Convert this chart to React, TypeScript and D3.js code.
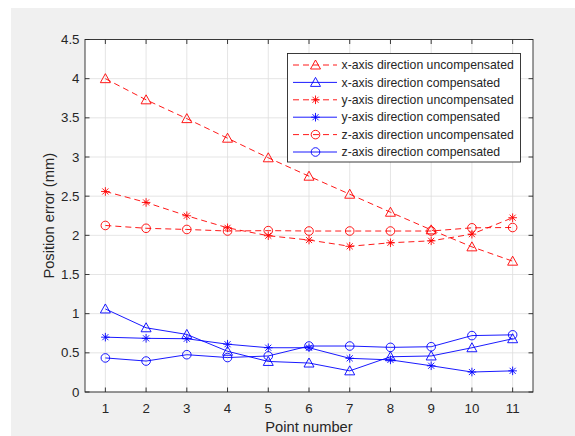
import React from "react";
import * as d3 from "d3";

const points = [1, 2, 3, 4, 5, 6, 7, 8, 9, 10, 11];
const xUncomp = [4.0, 3.73, 3.49, 3.24, 2.99, 2.755, 2.525, 2.295, 2.07, 1.853, 1.67];
const xComp = [1.06, 0.82, 0.735, 0.52, 0.39, 0.37, 0.27, 0.45, 0.46, 0.565, 0.68];
const yUncomp = [2.56, 2.42, 2.25, 2.096, 1.995, 1.94, 1.86, 1.905, 1.93, 2.015, 2.225];
const yComp = [0.7, 0.685, 0.68, 0.61, 0.565, 0.565, 0.43, 0.41, 0.335, 0.255, 0.27];
const zUncomp = [2.126, 2.09, 2.075, 2.055, 2.06, 2.055, 2.055, 2.055, 2.055, 2.096, 2.1];
const zComp = [0.435, 0.395, 0.476, 0.44, 0.46, 0.587, 0.587, 0.57, 0.578, 0.72, 0.73];
const yTicks = [0, 0.5, 1, 1.5, 2, 2.5, 3, 3.5, 4, 4.5];
const seriesNames = [
  "x-axis direction uncompensated",
  "x-axis direction compensated",
  "y-axis direction uncompensated",
  "y-axis direction compensated",
  "z-axis direction uncompensated",
  "z-axis direction compensated",
];

const RED = "#ff0000";
const BLUE = "#0000ff";
const AX = "#262626";

type Marker = "tri" | "star" | "circle";
const series: { name: string; values: number[]; color: string; dashed: boolean; marker: Marker }[] = [
  { name: seriesNames[0], values: xUncomp, color: RED, dashed: true, marker: "tri" },
  { name: seriesNames[1], values: xComp, color: BLUE, dashed: false, marker: "tri" },
  { name: seriesNames[2], values: yUncomp, color: RED, dashed: true, marker: "star" },
  { name: seriesNames[3], values: yComp, color: BLUE, dashed: false, marker: "star" },
  { name: seriesNames[4], values: zUncomp, color: RED, dashed: true, marker: "circle" },
  { name: seriesNames[5], values: zComp, color: BLUE, dashed: false, marker: "circle" },
];

function MarkerShape({ type, x, y, color }: { type: Marker; x: number; y: number; color: string }) {
  const sw = 0.9;
  if (type === "circle") {
    return <circle cx={x} cy={y} r={4.3} fill="none" stroke={color} strokeWidth={sw} />;
  }
  if (type === "tri") {
    const h = 5;
    return (
      <path
        d={`M${x},${y - h} L${x + 5},${y + 4} L${x - 5},${y + 4} Z`}
        fill="none"
        stroke={color}
        strokeWidth={sw}
      />
    );
  }
  const r = 4.3;
  const d = r * 0.707;
  return (
    <path
      d={`M${x - r},${y} L${x + r},${y} M${x},${y - r} L${x},${y + r} M${x - d},${y - d} L${x + d},${y + d} M${x - d},${y + d} L${x + d},${y - d}`}
      stroke={color}
      strokeWidth={sw}
    />
  );
}

export default function App() {
  const W = 575;
  const H = 436;
  const left = 85;
  const right = 533;
  const top = 39.5;
  const bottom = 392;

  const x = d3.scaleLinear().domain([0.5, 11.5]).range([left, right]);
  const y = d3.scaleLinear().domain([0, 4.5]).range([bottom, top]);
  const line = d3
    .line<number>()
    .x((_, i) => x(points[i]))
    .y((v) => y(v));

  const legX = 287.5;
  const legY = 53.5;
  const legW = 233;
  const legH = 108.5;
  const rowY0 = 65;
  const rowDY = 17.4;

  return (
    <svg
      width={W}
      height={H}
      style={{ position: "absolute", left: 0, top: 0 }}
      fontFamily="'Liberation Sans', Arial, Helvetica, sans-serif"
    >
      <rect x={0} y={0} width={W} height={H} fill="#ffffff" />
      <rect x={11} y={8} width={W - 11} height={H - 8} fill="#f0f0f0" />
      <rect x={left} y={top} width={right - left} height={bottom - top} fill="#ffffff" />

      {/* grid */}
      {points.map((p) => (
        <line key={"gx" + p} x1={x(p)} x2={x(p)} y1={top} y2={bottom} stroke="#dedede" strokeWidth={0.8} />
      ))}
      {yTicks.map((t) => (
        <line key={"gy" + t} x1={left} x2={right} y1={y(t)} y2={y(t)} stroke="#dedede" strokeWidth={0.8} />
      ))}

      {/* series */}
      {series.map((s) => (
        <g key={s.name}>
          <path
            d={line(s.values) || ""}
            fill="none"
            stroke={s.color}
            strokeWidth={0.9}
            strokeDasharray={s.dashed ? "6,4" : undefined}
          />
          {s.values.map((v, i) => (
            <MarkerShape key={i} type={s.marker} x={x(points[i])} y={y(v)} color={s.color} />
          ))}
        </g>
      ))}

      {/* axes box */}
      <rect x={left} y={top} width={right - left} height={bottom - top} fill="none" stroke={AX} strokeWidth={0.9} />

      {/* ticks */}
      {points.map((p) => (
        <g key={"tx" + p}>
          <line x1={x(p)} x2={x(p)} y1={bottom} y2={bottom - 4.5} stroke={AX} strokeWidth={0.9} />
          <line x1={x(p)} x2={x(p)} y1={top} y2={top + 4.5} stroke={AX} strokeWidth={0.9} />
          <text x={x(p)} y={413} textAnchor="middle" fontSize={13.3} fill={AX}>
            {p}
          </text>
        </g>
      ))}
      {yTicks.map((t) => (
        <g key={"ty" + t}>
          <line x1={left} x2={left + 4.5} y1={y(t)} y2={y(t)} stroke={AX} strokeWidth={0.9} />
          <line x1={right} x2={right - 4.5} y1={y(t)} y2={y(t)} stroke={AX} strokeWidth={0.9} />
          <text x={79.5} y={y(t)} dy="0.35em" textAnchor="end" fontSize={13.3} fill={AX}>
            {String(t)}
          </text>
        </g>
      ))}

      {/* axis labels */}
      <text x={(left + right) / 2} y={432} textAnchor="middle" fontSize={14.7} fill={AX}>
        Point number
      </text>
      <text
        transform={`translate(54,${(top + bottom) / 2}) rotate(-90)`}
        textAnchor="middle"
        fontSize={14.7}
        fill={AX}
      >
        Position error (mm)
      </text>

      {/* legend */}
      <rect x={legX} y={legY} width={legW} height={legH} fill="#ffffff" stroke={AX} strokeWidth={0.9} />
      {series.map((s, i) => {
        const ry = rowY0 + i * rowDY;
        return (
          <g key={"leg" + i}>
            <line
              x1={293}
              x2={337}
              y1={ry}
              y2={ry}
              stroke={s.color}
              strokeWidth={0.9}
              strokeDasharray={s.dashed ? "6,4" : undefined}
            />
            <MarkerShape type={s.marker} x={315.5} y={ry} color={s.color} />
            <text x={341.5} y={ry} dy="0.35em" fontSize={12.25} fill={AX}>
              {s.name}
            </text>
          </g>
        );
      })}
    </svg>
  );
}
